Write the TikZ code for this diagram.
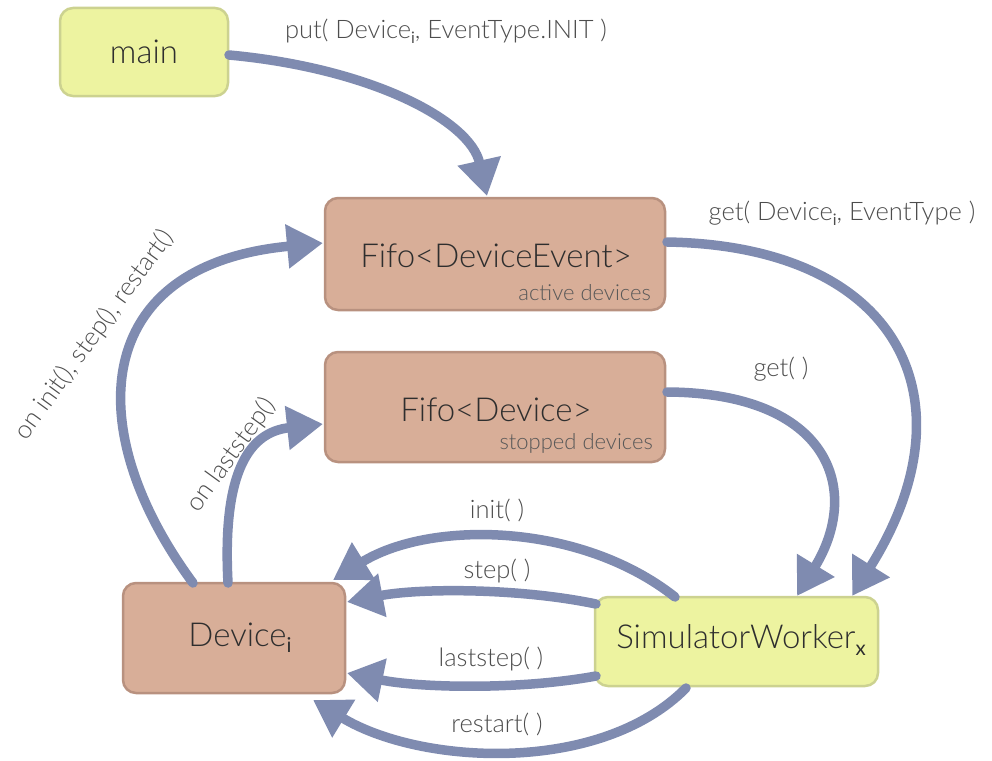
\documentclass[tikz,border=0pt]{standalone}
\usepackage{fontspec}
\setmainfont{Lato}[UprightFont=* Light, BoldFont=* Bold]
\newfontfamily\latoreg{Lato}
\usetikzlibrary{arrows.meta}
\definecolor{yelfill}{HTML}{EDF3A0}
\definecolor{yelline}{HTML}{CCD290}
\definecolor{brnfill}{HTML}{D8AE98}
\definecolor{brnline}{HTML}{B8917F}
\definecolor{flow}{HTML}{7F8BB0}
\definecolor{ink}{HTML}{2E2E2E}
% subscript in regular weight, set low under the baseline
\newcommand\sbx[1]{\raisebox{-0.38ex}{\latoreg\fontsize{0.62em}{0.7em}\selectfont #1}}
\tikzset{
  box/.style={rounded corners=13pt, line width=2.5pt, inner sep=0pt, text=ink},
  yelbox/.style={box, fill=yelfill, draw=yelline},
  brnbox/.style={box, fill=brnfill, draw=brnline},
  big/.style={font=\fontsize{33}{37}\selectfont},
  lbl/.style={text=ink!85, font=\fontsize{25.5}{29}\selectfont, inner sep=1pt},
  small/.style={text=ink!80, font=\fontsize{22}{24}\selectfont, inner sep=0pt},
  flowline/.style={draw=flow, line width=9.5pt, line cap=round,
    -{Triangle[length=36pt,width=42pt]}},
}
\begin{document}
\begin{tikzpicture}[x=1pt,y=-1pt]
\useasboundingbox (0,0) rectangle (992,760);

% boxes
\draw[yelbox] (60,8) rectangle (228,96);
\node[big, text=ink] (main) at (144,52) {main};
\coordinate (mainR) at (229,55);

\draw[brnbox] (325,198) rectangle (665,310);
\node[big, text=ink] (fde) at (496,256) {Fifo<DeviceEvent>};
\node[small, anchor=south east] (fdeSub) at (651,301) {active devices};

\draw[brnbox] (325,352) rectangle (665,462);
\node[big, text=ink] (fd) at (496,410) {Fifo<Device>};
\node[small, anchor=south east] (fdSub) at (653,454) {stopped devices};

\draw[brnbox] (123,583) rectangle (345,693);
\node[big, text=ink] (dev) at (240,638) {Device\sbx{i}};

\draw[yelbox] (595,597) rectangle (878,686);
\node[big, text=ink] (sim) at (741,640) {SimulatorWorker\sbx{x}};

% anchor points on the box borders
\coordinate (fdeT) at (487,196);
\coordinate (fdeL) at (323,243);
\coordinate (fdeR) at (667,242);
\coordinate (fdL) at (323,424);
\coordinate (fdR) at (667,392);
\coordinate (devTa) at (193,583);
\coordinate (devTb) at (228,583);
\coordinate (devRt) at (333,580);
\coordinate (devR1) at (347,602);
\coordinate (devR2) at (347,673);
\coordinate (devRb) at (313,700);
\coordinate (simT1) at (797,596);
\coordinate (simT2) at (852,596);
\coordinate (simTL) at (675,597);
\coordinate (simL1) at (596,604);
\coordinate (simL2) at (596,676);
\coordinate (simB) at (686,688);

% connectors
\draw[flowline] (mainR) .. controls (370,68) and (470,120) .. (fdeT);
\draw[flowline] (fdeR) .. controls (900,246) and (975,400) .. (simT2);
\draw[flowline] (fdR) .. controls (830,393) and (862,490) .. (simT1);
\draw[flowline] (devTa) .. controls (80,430) and (90,265) .. (fdeL);
\draw[flowline] (devTb) .. controls (222,470) and (250,432) .. (fdL);
\draw[flowline] (simTL) .. controls (580,522) and (430,520) .. (devRt);
\draw[flowline] (simL1) .. controls (520,588) and (420,588) .. (devR1);
\draw[flowline] (simL2) .. controls (520,690) and (420,688) .. (devR2);
\draw[flowline] (simB) .. controls (600,775) and (420,765) .. (devRb);

% connector labels
\node[lbl] (lput) at (446,31) {put( Device\sbx{i}, EventType.INIT )};
\node[lbl] (lget1) at (842,213) {get( Device\sbx{i}, EventType )};
\node[lbl] (lget2) at (781,369) {get( )};
\node[lbl] (linit) at (497,510) {init( )};
\node[lbl] (lstep) at (497,571) {step( )};
\node[lbl] (llast) at (491,659) {laststep( )};
\node[lbl] (lrest) at (497,724) {restart( )};
\node[lbl, rotate=54] (lon1) at (94,335) {on init(), step(), restart()};
\node[lbl, rotate=54] (lon2) at (231,455) {on laststep()};
\end{tikzpicture}
\end{document}
